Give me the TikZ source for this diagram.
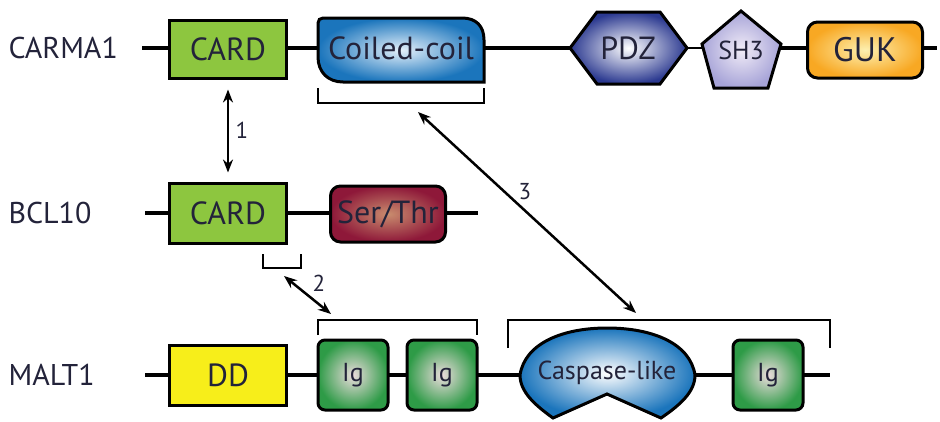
\documentclass[tikz,border=0pt]{standalone}
\usepackage{fontspec}
\setmainfont{PT Sans}
\usetikzlibrary{arrows.meta}

\definecolor{txt}{HTML}{23233A}
\definecolor{cardgreen}{HTML}{8DC63F}
\definecolor{ddyellow}{HTML}{F7EE1A}
\definecolor{ccblue}{HTML}{1B75BC}
\definecolor{ccin}{HTML}{E4F0FA}
\definecolor{pdzblue}{HTML}{2B3990}
\definecolor{shlav}{HTML}{A7A4D8}
\definecolor{shin}{HTML}{F1ECF7}
\definecolor{gukorange}{HTML}{F8A823}
\definecolor{gukin}{HTML}{FDF0B0}
\definecolor{serred}{HTML}{8E1839}
\definecolor{serin}{HTML}{C98C6E}
\definecolor{iggreen}{HTML}{2E9B47}
\definecolor{igin}{HTML}{EBDCDC}

\begin{document}
\begin{tikzpicture}[x=1pt, y=-1pt,
  backbone/.style={line width=3.5pt},
  protdomain/.style={draw=black, line width=3pt, text=txt, font=\fontsize{32}{34}\selectfont},
  boxdomain/.style={protdomain, minimum width=117pt, minimum height=58pt, inner sep=0pt},
  igdomain/.style={protdomain, rounded corners=7pt, minimum width=70pt, minimum height=70pt,
    inner sep=0pt, inner color=igin, outer color=iggreen, font=\fontsize{26}{28}\selectfont},
  protein/.style={text=txt, anchor=west, font=\fontsize{30}{32}\selectfont},
  bracket/.style={line width=2pt},
  link/.style={line width=2.5pt, {Stealth[length=13pt,width=10pt]}-{Stealth[length=13pt,width=10pt]}},
  linknum/.style={text=txt, font=\fontsize{23}{25}\selectfont}]

  \useasboundingbox (0,0) rectangle (940,421);

  %% CARMA1
  \node[protein] (carma) at (5,48) {CARMA1};
  \coordinate (carma-start) at (142,48);
  \coordinate (carma-end) at (937,48);
  \coordinate (pdz-e) at (687,48);
  \coordinate (sh3-w) at (702,48);
  \draw[backbone] (carma-start) -- (pdz-e);
  \draw[line width=1.5pt] (pdz-e) -- (sh3-w);
  \draw[backbone] (sh3-w) -- (carma-end);
  \node[boxdomain, fill=cardgreen] (card1) at (228,49) {CARD};
  \shade[protdomain, inner color=ccin, outer color=ccblue]
    (323,18) -- (462,18) .. controls (476,18) and (484,26) .. (484,40) -- (484,82)
    -- (343,82) .. controls (328,82) and (318,72) .. (318,57) -- (318,23)
    .. controls (318,20) and (320,18) .. (323,18) -- cycle;
  \node[protdomain, draw=none] (cc) at (401,48) {Coiled-coil};
  \shade[protdomain, inner color=white, outer color=pdzblue]
    (570,48) -- (597,12) -- (660,12) -- (687,48) -- (660,84) -- (597,84) -- cycle;
  \node[protdomain, draw=none] (pdz) at (628,48) {PDZ};
  \shade[protdomain, inner color=shin, outer color=shlav]
    (741,11) -- (781,44) -- (768,88) -- (714,88) -- (702,44) -- cycle;
  \node[protdomain, draw=none, font=\fontsize{26}{28}\selectfont] (sh3) at (741,50) {SH3};
  \node[boxdomain, minimum width=115pt, minimum height=56pt, rounded corners=10pt,
    inner color=gukin, outer color=gukorange, font=\fontsize{34}{36}\selectfont] (guk) at (865,50) {GUK};
  \draw[bracket] (318,88) |- (484,103) -- (484,88);
  \coordinate (cc-link) at (418,112);

  %% BCL10
  \node[protein] (bcl) at (5,213) {BCL10};
  \coordinate (bcl-start) at (145,213);
  \coordinate (bcl-end) at (478,213);
  \draw[backbone] (bcl-start) -- (bcl-end);
  \node[boxdomain, minimum height=60pt, fill=cardgreen] (card2) at (228,213) {CARD};
  \node[boxdomain, minimum width=115pt, minimum height=56pt, rounded corners=10pt,
    inner color=serin, outer color=serred] (ser) at (388,214) {Ser/Thr};
  \draw[bracket] (263,254) |- (301,268) -- (301,254);
  \coordinate (bcl-link) at (284,276);

  %% MALT1
  \node[protein] (malt) at (5,375) {MALT1};
  \coordinate (malt-start) at (145,375);
  \coordinate (malt-end) at (830,375);
  \draw[backbone] (malt-start) -- (malt-end);
  \node[boxdomain, minimum height=60pt, fill=ddyellow] (dd) at (228,375) {DD};
  \node[igdomain] (ig1) at (353,375) {Ig};
  \node[igdomain] (ig2) at (442,375) {Ig};
  \shade[protdomain, inner color=white, outer color=ccblue]
    (553,418) -- (607,394) -- (661,418) .. controls (680,405) and (695,392) .. (695,375)
    .. controls (690,343) and (652,328) .. (607,328)
    .. controls (563,328) and (525,343) .. (520,375)
    .. controls (520,392) and (535,405) .. (553,418) -- cycle;
  \node[protdomain, draw=none, font=\fontsize{26}{28}\selectfont] (casp) at (607,373) {Caspase-like};
  \node[igdomain] (ig3) at (768,375) {Ig};
  \draw[bracket] (318,335) |- (477,320) -- (477,335);
  \draw[bracket] (508,348) |- (830,320) -- (830,348);
  \coordinate (ig-link) at (331,314);
  \coordinate (casp-link) at (636,313);

  %% interactions
  \draw[link, shorten <=10pt, shorten >=9pt] (card1) -- (card2);
  \node[linknum] (n1) at (242,130) {1};
  \draw[link] (bcl-link) -- (ig-link);
  \node[linknum] (n2) at (319,283) {2};
  \draw[link] (cc-link) -- (casp-link);
  \node[linknum] (n3) at (525,192) {3};

\end{tikzpicture}
\end{document}
